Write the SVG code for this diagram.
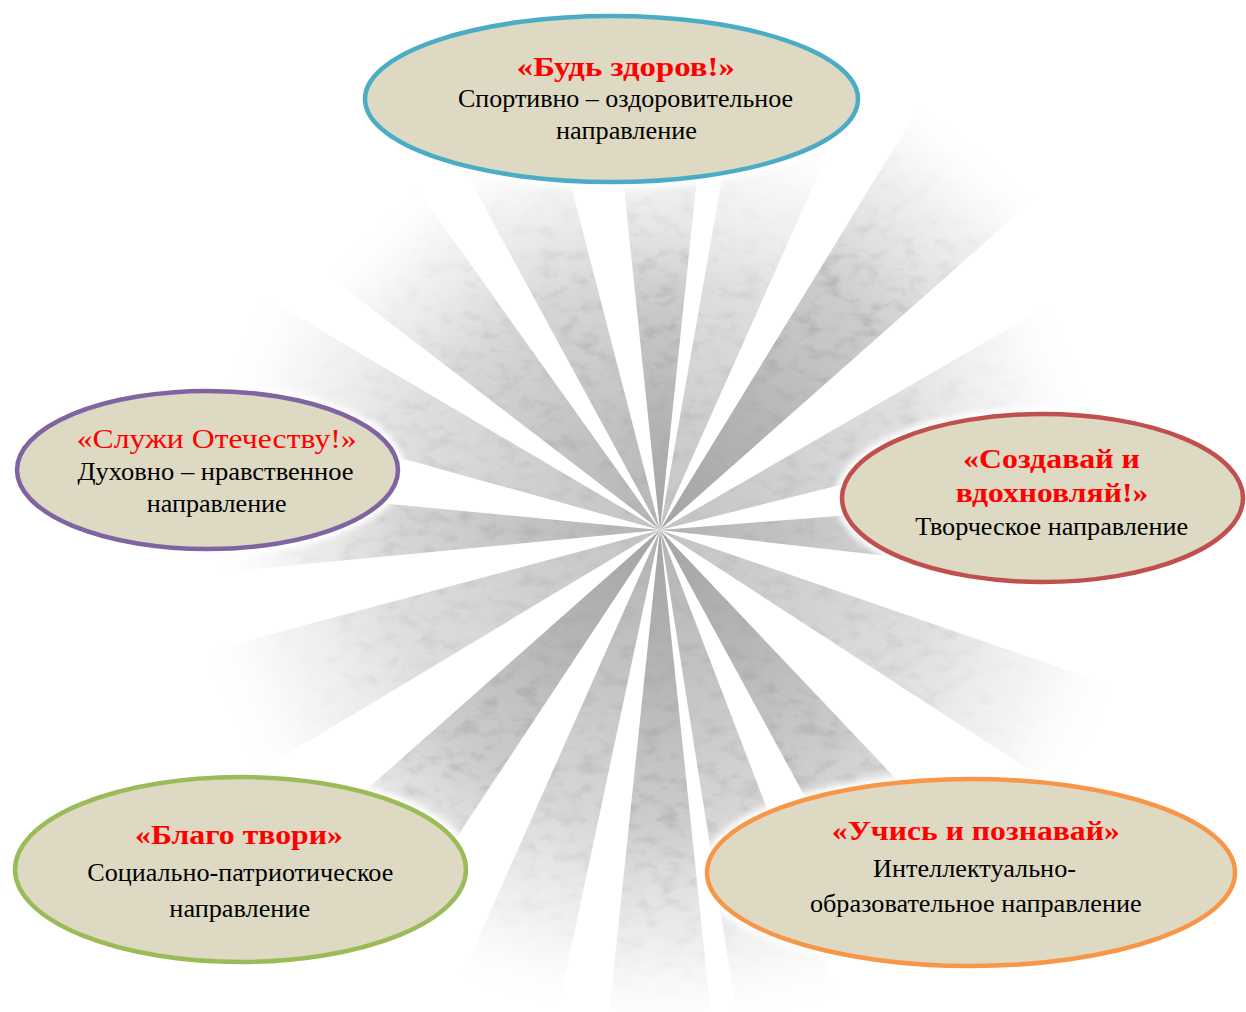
<svg xmlns="http://www.w3.org/2000/svg" width="1246" height="1012" viewBox="0 0 1246 1012">
<defs>
<style>
.node{fill:#ddd9c3;stroke-width:4.5}
.halo{fill:#fff;stroke:#fff;stroke-width:14}
.title{font-family:"Liberation Serif","Times New Roman",serif;font-size:28px;font-weight:bold;fill:#ff0000;text-anchor:middle}
.title-r{font-family:"Liberation Serif","Times New Roman",serif;font-size:28px;fill:#ff0000;text-anchor:middle}
.body{font-family:"Liberation Serif","Times New Roman",serif;font-size:26px;fill:#000;text-anchor:middle}
.ray{fill:url(#rayGrad)}
.dark{fill-opacity:1}
.mid{fill-opacity:0.82}
.light{fill-opacity:0.65}
</style>
<linearGradient id="rayGrad" x1="0" y1="1" x2="0" y2="0">
<stop offset="0" stop-color="#a4a4a4" stop-opacity="1"/>
<stop offset="0.3" stop-color="#b6b6b6" stop-opacity="1"/>
<stop offset="0.6" stop-color="#c8c8c8" stop-opacity="0.9"/>
<stop offset="0.85" stop-color="#dadada" stop-opacity="0.4"/>
<stop offset="1" stop-color="#eeeeee" stop-opacity="0"/>
</linearGradient>
<filter id="mottle" filterUnits="userSpaceOnUse" x="0" y="0" width="1246" height="1012">
<feTurbulence type="fractalNoise" baseFrequency="0.05 0.08" numOctaves="3" seed="7" result="noise"/>
<feColorMatrix in="noise" type="matrix" values="0 0 0 0 0.4  0 0 0 0 0.4  0 0 0 0 0.4  2.0 0 0 0 -0.95" result="spots"/>
<feComposite in="spots" in2="SourceGraphic" operator="in" result="clipped"/>
<feComposite in="clipped" in2="SourceGraphic" operator="in" result="clipped2"/>
<feMerge><feMergeNode in="SourceGraphic"/><feMergeNode in="clipped2"/></feMerge>
</filter>
<filter id="blur" x="-10%" y="-20%" width="120%" height="140%">
<feGaussianBlur stdDeviation="3"/>
</filter>
</defs>
<rect x="0" y="0" width="1246" height="1012" fill="#fff"/>
<g id="connectors">
<g filter="url(#mottle)">
<polygon class="ray dark" transform="rotate(0 660 530)" points="660,530 618.2,132.2 701.8,132.2"/>
<polygon class="ray light" transform="rotate(17 660 530)" points="660,530 608.8,113.1 711.2,113.1"/>
<polygon class="ray dark" transform="rotate(40 660 530)" points="660,530 586.1,35.5 733.9,35.5"/>
<polygon class="ray light" transform="rotate(68 660 530)" points="660,530 597.4,84.4 722.6,84.4"/>
<polygon class="ray mid" transform="rotate(91 660 530)" points="660,530 617.8,92 702.2,92"/>
<polygon class="ray light" transform="rotate(116 660 530)" points="660,530 601.5,53.6 718.5,53.6"/>
<polygon class="ray dark" transform="rotate(144 660 530)" points="660,530 597.4,54.1 722.6,54.1"/>
<polygon class="ray mid" transform="rotate(165 660 530)" points="660,530 607.7,32.7 712.3,32.7"/>
<polygon class="ray dark" transform="rotate(180 660 530)" points="660,530 607.7,32.7 712.3,32.7"/>
<polygon class="ray mid" transform="rotate(198 660 530)" points="660,530 608.8,42.7 711.2,42.7"/>
<polygon class="ray dark" transform="rotate(221 660 530)" points="660,530 594.7,34.3 725.3,34.3"/>
<polygon class="ray light" transform="rotate(247 660 530)" points="660,530 594.6,64.6 725.4,64.6"/>
<polygon class="ray mid" transform="rotate(270 660 530)" points="660,530 617.8,92 702.2,92"/>
<polygon class="ray light" transform="rotate(293 660 530)" points="660,530 600,74 720,74"/>
<polygon class="ray mid" transform="rotate(316 660 530)" points="660,530 597.9,114.6 722.1,114.6"/>
<polygon class="ray mid" transform="rotate(338.5 660 530)" points="660,530 608.8,113.1 711.2,113.1"/>
</g>
</g>
<g id="node-top">
<ellipse class="halo" filter="url(#blur)" cx="611.5" cy="99" rx="246.5" ry="83"/>
<ellipse class="node" stroke="#4bacc6" cx="611.5" cy="99" rx="246.5" ry="83"/>
<text class="title" x="625.8" y="76" textLength="218" lengthAdjust="spacingAndGlyphs">«Будь здоров!»</text>
<text class="body" x="625.5" y="106.7" textLength="335" lengthAdjust="spacingAndGlyphs">Спортивно – оздоровительное</text>
<text class="body" x="626.5" y="138.5" textLength="141" lengthAdjust="spacingAndGlyphs">направление</text>
</g>
<g id="node-left">
<ellipse class="halo" filter="url(#blur)" cx="207.5" cy="470" rx="190.5" ry="79"/>
<ellipse class="node" stroke="#8064a2" cx="207.5" cy="470" rx="190.5" ry="79"/>
<text class="title-r" x="216.7" y="448" textLength="280" lengthAdjust="spacingAndGlyphs">«Служи Отечеству!»</text>
<text class="body" x="215.5" y="479.5" textLength="276" lengthAdjust="spacingAndGlyphs">Духовно – нравственное</text>
<text class="body" x="216.7" y="512" textLength="140" lengthAdjust="spacingAndGlyphs">направление</text>
</g>
<g id="node-right">
<ellipse class="halo" filter="url(#blur)" cx="1042.5" cy="498" rx="200.5" ry="84"/>
<ellipse class="node" stroke="#c0504d" cx="1042.5" cy="498" rx="200.5" ry="84"/>
<text class="title" x="1051.5" y="468" textLength="177" lengthAdjust="spacingAndGlyphs">«Создавай и</text>
<text class="title" x="1052" y="502" textLength="192.6" lengthAdjust="spacingAndGlyphs">вдохновляй!»</text>
<text class="body" x="1051.7" y="535" textLength="273" lengthAdjust="spacingAndGlyphs">Творческое направление</text>
</g>
<g id="node-bottom-left">
<ellipse class="halo" filter="url(#blur)" cx="240.5" cy="869.5" rx="225.5" ry="92.5"/>
<ellipse class="node" stroke="#9bbb59" cx="240.5" cy="869.5" rx="225.5" ry="92.5"/>
<text class="title" x="239" y="844" textLength="208" lengthAdjust="spacingAndGlyphs">«Благо твори»</text>
<text class="body" x="240.3" y="881" textLength="306" lengthAdjust="spacingAndGlyphs">Социально-патриотическое</text>
<text class="body" x="239.7" y="916.5" textLength="140.7" lengthAdjust="spacingAndGlyphs">направление</text>
</g>
<g id="node-bottom-right">
<ellipse class="halo" filter="url(#blur)" cx="971" cy="872.5" rx="264" ry="93.5"/>
<ellipse class="node" stroke="#f79646" cx="971" cy="872.5" rx="264" ry="93.5"/>
<text class="title" x="975.8" y="840" font-size="29" textLength="288" lengthAdjust="spacingAndGlyphs">«Учись и познавай»</text>
<text class="body" x="974.5" y="876.5" font-size="27" textLength="203" lengthAdjust="spacingAndGlyphs">Интеллектуально-</text>
<text class="body" x="975.8" y="912" font-size="27" textLength="331.7" lengthAdjust="spacingAndGlyphs">образовательное направление</text>
</g>
</svg>
